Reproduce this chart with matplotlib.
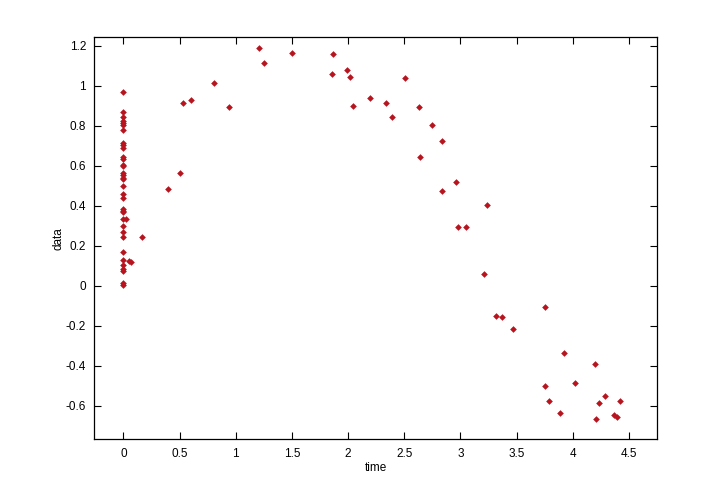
import matplotlib
matplotlib.use("Agg")
import matplotlib.pyplot as plt

plt.rcParams['font.family'] = ['Liberation Sans', 'DejaVu Sans']

# points at time 0
t0_data = [0.968, 0.868, 0.842, 0.822, 0.812, 0.802, 0.778, 0.712, 0.702, 0.688,
           0.645, 0.635, 0.605, 0.598, 0.562, 0.552, 0.538, 0.532, 0.498, 0.458,
           0.438, 0.382, 0.375, 0.368, 0.335, 0.298, 0.268, 0.242, 0.168, 0.128,
           0.102, 0.082, 0.075, 0.015, 0.002]

# remaining points (time, data)
t_rest = [0.02, 0.053, 0.065, 0.169, 0.398, 0.504, 0.534, 0.605, 0.807, 0.943,
          1.204, 1.252, 1.504, 1.868, 1.859, 1.993, 2.020, 2.509, 2.046, 2.198,
          2.340, 2.388, 2.634, 2.744, 2.838, 2.643, 2.963, 2.838, 2.980, 3.051,
          3.238, 3.209, 3.319, 3.372, 3.470, 3.749, 3.924, 4.199, 4.021, 3.749,
          3.790, 4.288, 4.235, 4.422, 3.888, 4.208, 4.368, 4.395]
d_rest = [0.335, 0.122, 0.118, 0.242, 0.482, 0.562, 0.912, 0.928, 1.012, 0.892,
          1.187, 1.112, 1.162, 1.157, 1.058, 1.077, 1.042, 1.037, 0.897, 0.937,
          0.912, 0.842, 0.892, 0.802, 0.722, 0.643, 0.517, 0.472, 0.292, 0.292,
          0.402, 0.057, -0.153, -0.157, -0.218, -0.108, -0.338, -0.393, -0.488, -0.503,
          -0.578, -0.553, -0.588, -0.578, -0.638, -0.668, -0.648, -0.658]

time = [0.0] * len(t0_data) + t_rest
data = t0_data + d_rest

xticks = [0, 0.5, 1, 1.5, 2, 2.5, 3, 3.5, 4, 4.5]
xtick_labels = ['0', '0.5', '1', '1.5', '2', '2.5', '3', '3.5', '4', '4.5']
yticks = [-0.6, -0.4, -0.2, 0, 0.2, 0.4, 0.6, 0.8, 1, 1.2]
ytick_labels = ['-0.6', '-0.4', '-0.2', '0', '0.2', '0.4', '0.6', '0.8', '1', '1.2']

fig = plt.figure(figsize=(7.26, 4.93), dpi=100)
ax = fig.add_axes([0.130, 0.109, 0.7745, 0.815])
ax.plot(time, data, linestyle='none', marker='D', markersize=3.4,
        color='#b8141f', markeredgewidth=0)

ax.set_xlim(-0.258, 4.746)
ax.set_ylim(-0.768, 1.242)
ax.set_xticks(xticks)
ax.set_xticklabels(xtick_labels)
ax.set_yticks(yticks)
ax.set_yticklabels(ytick_labels)
ax.tick_params(direction='in', length=5, width=0.8, top=True, right=True,
               labelsize=8.5, pad=6)
for s in ax.spines.values():
    s.set_linewidth(0.9)
ax.set_xlabel('time', fontsize=8.5, labelpad=2)
ax.set_ylabel('data', fontsize=8.5, labelpad=1)

fig.savefig('out.png', dpi=100)
